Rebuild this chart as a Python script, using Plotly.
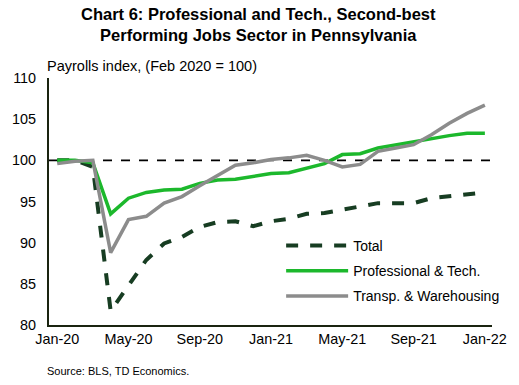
import plotly.graph_objects as go

months = ["Jan-20","Feb-20","Mar-20","Apr-20","May-20","Jun-20","Jul-20","Aug-20","Sep-20","Oct-20","Nov-20","Dec-20",
          "Jan-21","Feb-21","Mar-21","Apr-21","May-21","Jun-21","Jul-21","Aug-21","Sep-21","Oct-21","Nov-21","Dec-21","Jan-22"]
total = [100.0, 100.0, 99.2, 81.7, 84.8, 87.9, 89.9, 90.7, 91.9, 92.5, 92.6, 92.0,
         92.6, 92.9, 93.5, 93.6, 94.0, 94.4, 94.8, 94.8, 94.8, 95.4, 95.6, 95.8, 96.1]
prof = [100.0, 100.0, 99.7, 93.5, 95.4, 96.1, 96.4, 96.5, 97.2, 97.6, 97.7, 98.1,
        98.4, 98.5, 99.1, 99.6, 100.7, 100.8, 101.5, 101.9, 102.2, 102.6, 103.0, 103.3, 103.3]
transp = [99.6, 99.9, 100.0, 88.8, 92.8, 93.2, 94.8, 95.6, 96.9, 98.2, 99.4, 99.7,
          100.1, 100.3, 100.6, 100.0, 99.2, 99.5, 101.1, 101.5, 101.9, 103.1, 104.5, 105.7, 106.7]
tick_idx = [0, 4, 8, 12, 16, 20, 24]
y_ticks = [80, 85, 90, 95, 100, 105, 110]

x = list(range(len(months)))

fig = go.Figure()
fig.add_trace(go.Scatter(x=x, y=total, mode="lines", name="Total", legendgroup="a",
                         line=dict(color="#173d22", width=4, dash="dash")))
fig.add_trace(go.Scatter(x=x, y=prof, mode="lines", name="Professional & Tech.", legendgroup="b",
                         line=dict(color="#1cb82c", width=3.5)))
fig.add_trace(go.Scatter(x=x, y=transp, mode="lines", name="Transp. & Warehousing", legendgroup="c",
                         line=dict(color="#8c8c8c", width=3.5)))

fig.add_shape(type="line", xref="paper", yref="y", x0=0, x1=1, y0=100, y1=100,
              line=dict(color="black", width=1.8, dash="dash"), layer="below")

fig.update_layout(
    width=519, height=385,
    margin=dict(l=45, r=16, t=78, b=60),
    paper_bgcolor="white", plot_bgcolor="white",
    font=dict(family="Liberation Sans, Arial, sans-serif", size=14.4, color="black"),
    showlegend=True,
    legend=dict(x=0.524, xanchor="left", y=0.385, yanchor="top", traceorder="grouped",
                tracegroupgap=4, itemwidth=62, bgcolor="rgba(0,0,0,0)",
                font=dict(size=14)),
    xaxis=dict(range=[-0.46, 24.4], tickmode="array", tickvals=tick_idx,
               ticktext=[months[i] for i in tick_idx], showgrid=False, zeroline=False,
               showline=True, linecolor="#1a2410", linewidth=2, ticks="", fixedrange=True),
    yaxis=dict(range=[80, 110], tickmode="array", tickvals=y_ticks, showgrid=False,
               zeroline=False, showline=True, linecolor="#1a2410", linewidth=2, ticks="",
               ticklabelstandoff=8),
)

fig.add_annotation(text="<b>Chart 6: Professional and Tech., Second-best<br>Performing Jobs Sector in Pennsylvania</b>",
                   xref="paper", yref="paper", x=0.474, y=1.0, xanchor="center", yanchor="bottom",
                   showarrow=False, font=dict(size=16.5), yshift=32)
fig.add_annotation(text="Payrolls index, (Feb 2020 = 100)", xref="paper", yref="paper",
                   x=-0.008, y=1.0, xanchor="left", yanchor="bottom", showarrow=False,
                   font=dict(size=14.5), yshift=2)
fig.add_annotation(text="Source: BLS, TD Economics.", xref="paper", yref="paper",
                   x=-0.008, y=0, xanchor="left", yanchor="top", showarrow=False,
                   font=dict(size=11), yshift=-38)

fig.write_html("out.html")
